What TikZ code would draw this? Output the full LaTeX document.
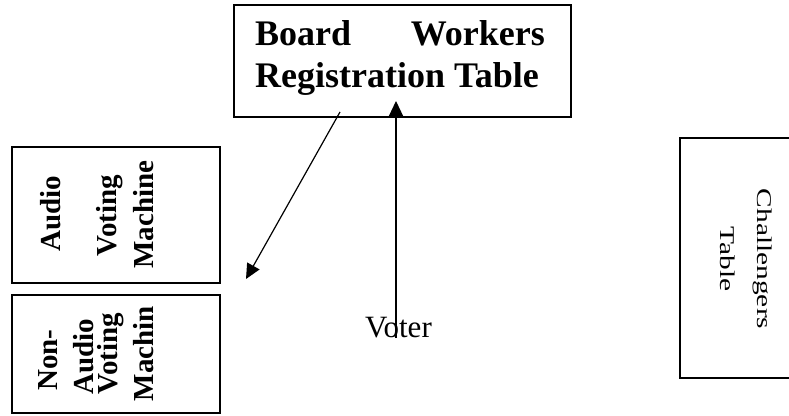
\documentclass[tikz,border=0pt]{standalone}
\usepackage{graphicx}
\usepackage{fontspec}
\setmainfont{Liberation Serif}
\usetikzlibrary{arrows.meta}
\begin{document}
\begin{tikzpicture}[x=1pt,y=-1pt,
  box/.style={draw, line width=1.4pt, inner sep=0pt},
  boardtxt/.style={font=\fontsize{36}{42}\selectfont\bfseries, inner sep=0pt},
  vtxt/.style={font=\fontsize{29}{34}\selectfont\bfseries, inner sep=0pt, rotate=90, anchor=base},
  ctxt/.style={font=\fontsize{21}{24}\selectfont, inner sep=0pt, rotate=-90, anchor=base},
  arr/.style={line width=1.2pt, -{Triangle[length=15pt,width=14pt]}}]
\useasboundingbox (0,0) rectangle (789,415);
\clip (0,0) rectangle (789,415);
% boxes
\node[box, minimum width=337pt, minimum height=112pt] (board) at (402.5,61) {};
\node[box, minimum width=208pt, minimum height=136pt] (audio) at (116,215) {};
\node[box, minimum width=208pt, minimum height=118pt] (nonaudio) at (116,354) {};
\node[box, minimum width=120pt, minimum height=240pt] (chall) at (740,258) {};
% board text
\node[boardtxt, anchor=base west] (t1) at (255,45) {Board};
\node[boardtxt, anchor=base east] (t2) at (545,45) {Workers};
\node[boardtxt, anchor=base west] (t3) at (255,87) {Registration Table};
% audio machine text
\node[vtxt] (au1) at (60,213.5) {Audio};
\node[vtxt] (au2) at (116,215.5) {Voting};
\node[vtxt] (au3) at (153,214.5) {Machine};
% non-audio machine text
\node[vtxt] (na1) at (57,360) {Non-};
\node[vtxt] (na2) at (93,356.5) {Audio};
\node[vtxt] (na3) at (117,353.5) {Voting};
\node[vtxt] (na4) at (153,353.5) {Machin};
% challengers text
\node[ctxt] (c1) at (757,259) {\scalebox{1.4}[1]{Challengers}};
\node[ctxt] (c2) at (720,259) {\scalebox{1.4}[1]{Table}};
% voter
\node[font=\fontsize{31}{36}\selectfont, inner sep=0pt, anchor=base west] (voter) at (365,337) {Voter};
% arrows
\coordinate (a1s) at (340,112);
\coordinate (a1e) at (246,279);
\coordinate (a2s) at (396,338);
\coordinate (a2e) at (396,101);
\draw[arr] (a1s) -- (a1e);
\draw[arr] (a2s) -- (a2e);
\end{tikzpicture}
\end{document}
